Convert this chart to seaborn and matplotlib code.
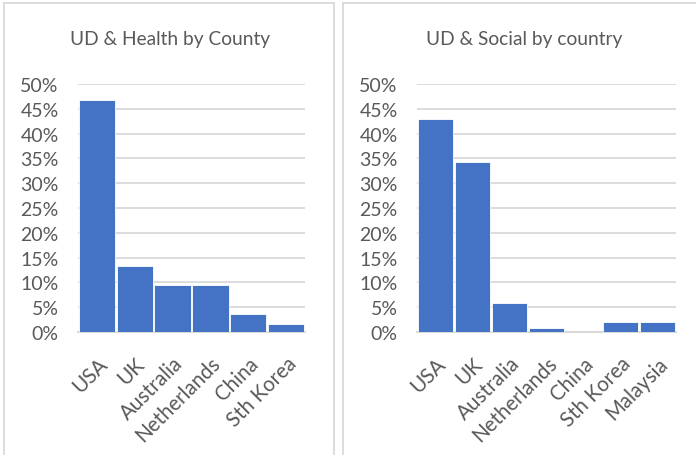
import matplotlib
matplotlib.use("Agg")
import matplotlib.pyplot as plt
from matplotlib.patches import Rectangle
from matplotlib.ticker import PercentFormatter, MultipleLocator
import seaborn as sns

# Share of UD studies by country
health_countries = ["USA", "UK", "Australia", "Netherlands", "China", "Sth Korea"]
health_share = [0.468, 0.134, 0.095, 0.095, 0.036, 0.016]

social_countries = ["USA", "UK", "Australia", "Netherlands", "China", "Sth Korea", "Malaysia"]
social_share = [0.429, 0.343, 0.058, 0.008, 0.0, 0.021, 0.021]

titles = ["UD & Health by County", "UD & Social by country"]

BAR = "#4472C4"
TEXT = "#595959"
GRID = "#d9d9d9"

sns.set_theme(style="white")
plt.rcParams["font.family"] = ["Lato", "DejaVu Sans"]

fig = plt.figure(figsize=(6.96, 4.56), dpi=100)
W, H = 696, 456

# chart-area borders
for x0, x1 in [(4, 334), (343, 700)]:
    fig.patches.append(Rectangle((x0 / W, -0.05), (x1 - x0) / W, (456 + 25 - 5.7) / H,
                                 transform=fig.transFigure, fill=False,
                                 edgecolor="#d9d9d9", linewidth=1.3))

panels = [
    (health_countries, health_share, titles[0], (78, 305), 170),
    (social_countries, social_share, titles[1], (417, 676), 524),
]

for cats, vals, title, (x0, x1), tx in panels:
    ax = fig.add_axes([x0 / W, 1 - 333 / H, (x1 - x0) / W, (333 - 85) / H])
    sns.barplot(x=cats, y=vals, ax=ax, color=BAR, saturation=1, width=0.96,
                edgecolor="white", linewidth=0.6, zorder=3)
    ax.set_ylim(0, 0.5)
    ax.set_xlim(-0.5, len(cats) - 0.5)
    ax.yaxis.set_major_locator(MultipleLocator(0.05))
    ax.yaxis.set_major_formatter(PercentFormatter(1.0, decimals=0))
    ax.grid(axis="y", color=GRID, linewidth=1.3, zorder=0)
    ax.set_axisbelow(True)
    for s in ["top", "right", "left"]:
        ax.spines[s].set_visible(False)
    ax.spines["bottom"].set_color(GRID)
    ax.spines["bottom"].set_linewidth(1.5)
    ax.tick_params(axis="y", length=0, colors=TEXT, labelsize=14, pad=14)
    ax.tick_params(axis="x", length=0, colors=TEXT, labelsize=14.8, pad=15)
    for lab in ax.get_xticklabels():
        lab.set_rotation(45)
        lab.set_ha("right")
        lab.set_rotation_mode("anchor")
    ax.set_xlabel("")
    ax.set_ylabel("")
    fig.text(tx / W, 1 - 40 / H, title, ha="center", va="center",
             fontsize=13.8, color=TEXT)

fig.savefig("out.png", dpi=100, facecolor="white")
